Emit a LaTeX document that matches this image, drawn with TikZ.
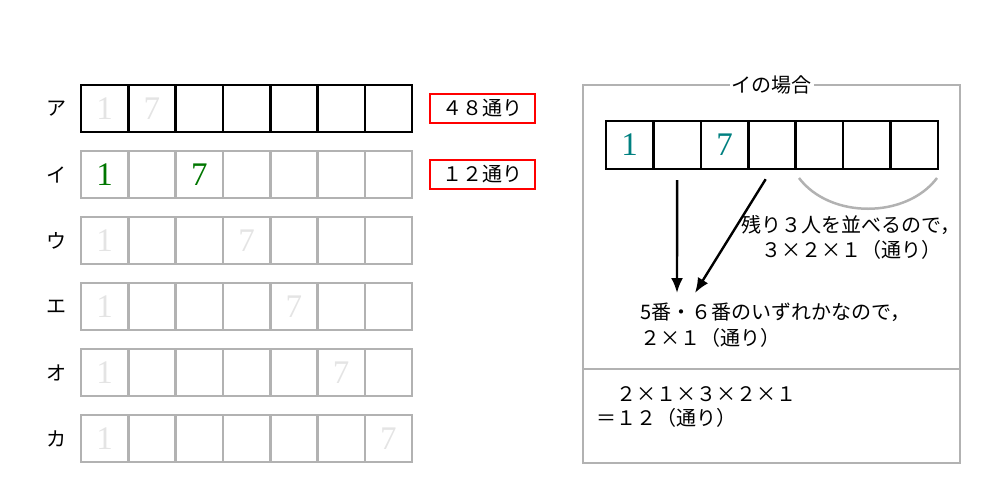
\documentclass[tikz,border=0pt]{standalone}
\usepackage{fontspec}
\setmainfont{Liberation Serif}
\newfontfamily\jp{Noto Sans CJK JP}
\usetikzlibrary{arrows.meta}
\definecolor{ghost}{RGB}{228,228,228}
\definecolor{lgray}{RGB}{178,178,178}
\definecolor{dgreen}{RGB}{0,118,0}
\definecolor{tealc}{RGB}{0,128,128}
\definecolor{redc}{RGB}{255,0,0}
\tikzset{
  cell/.style={draw, line width=2.6pt, minimum width=47.3pt, minimum height=47pt,
    inner sep=0pt, outer sep=0pt, anchor=north west},
  rcell/.style={draw=black, line width=2.6pt, minimum width=47.43pt, minimum height=48pt,
    inner sep=0pt, outer sep=0pt, anchor=north west},
  digit/.style={inner sep=0pt, font=\fontsize{33}{33}\selectfont},
  rowlab/.style={inner sep=0pt, font=\jp\fontsize{20}{24}\selectfont},
  jptext/.style={anchor=west, inner sep=0pt, text height=17.6pt, text depth=2.4pt,
    font=\jp\fontsize{20}{24}\selectfont},
  redbox/.style={draw=redc, line width=2.5pt, minimum width=105pt, minimum height=29pt,
    inner sep=0pt, font=\jp\fontsize{20}{24}\selectfont},
  panel/.style={draw=lgray, line width=2.5pt},
  arr/.style={line width=2.4pt, -{Latex[length=15pt,width=12pt]}},
}
\begin{document}
\begin{tikzpicture}[x=1pt,y=-1pt]
\useasboundingbox (0,0) rectangle (999,483);
% left rows
\foreach \row/\lab/\seven/\col/\dcol in {1/ア/2/black/ghost,2/イ/3/lgray/dgreen,3/ウ/4/lgray/ghost,4/エ/5/lgray/ghost,5/オ/6/lgray/ghost,6/カ/7/lgray/ghost}{
  \pgfmathsetmacro\ytop{85+66*(\row-1)}
  \node[rowlab] (L\row) at (56,\ytop+23.5) {\lab};
  \foreach \c in {1,...,7}{
    \node[cell, draw=\col] (c\row-\c) at ({81+47.3*(\c-1)},\ytop) {};
  }
  \node[digit, text=\dcol] (d\row-1) at (c\row-1.center) {1};
  \node[digit, text=\dcol] (d\row-7) at (c\row-\seven.center) {7};
}
% red boxes
\node[redbox] (res1) at (482.5,108.5) {４８通り};
\node[redbox] (res2) at (482.5,174.5) {１２通り};
% right panel
\draw[panel] (583,85) rectangle (960,463);
\draw[panel] (583,369) -- (960,369);
\node[rowlab, fill=white, inner xsep=2pt] (title) at (771.5,85) {イの場合};
\foreach \c in {1,...,7}{
  \node[rcell] (R\c) at ({606+47.43*(\c-1)},121) {};
}
\node[digit, text=tealc] (rd1) at (R1.center) {1};
\node[digit, text=tealc] (rd7) at (R3.center) {7};
% arc under last three
\coordinate (arcA) at (799,178);
\coordinate (arcB) at (937,178);
\draw[lgray, line width=2.5pt] (arcA) .. controls (830,219) and (906,219) .. (arcB);
% arrows
\coordinate (tipA) at (677,293);
\coordinate (tipB) at (695,293);
\draw[arr, shorten <=11pt] (R2.south) -- (tipA);
\draw[arr, shorten <=12pt] (R4.south) -- (tipB);
% texts
\node[jptext] (t1) at (741,225) {残り３人を並べるので，};
\node[jptext] (t2) at (741,250) {　３×２×１（通り）};
\node[jptext] (t3) at (640,312) {5番・６番のいずれかなので，};
\node[jptext] (t4) at (640,338) {２×１（通り）};
\node[jptext] (t5) at (596,394) {　２×１×３×２×１};
\node[jptext] (t6) at (596,418) {＝１２（通り）};
\end{tikzpicture}
\end{document}
